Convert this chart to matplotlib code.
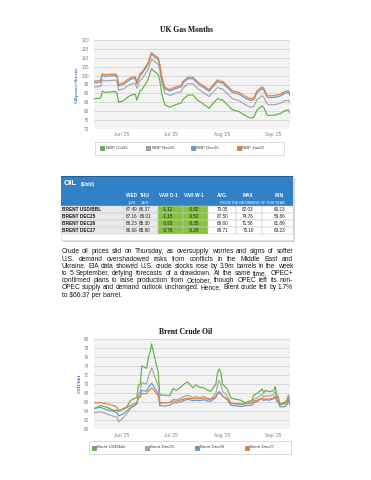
import matplotlib
matplotlib.use("Agg")
import matplotlib.pyplot as plt
import matplotlib.dates as mdates
from matplotlib.patches import Rectangle
import pandas as pd

# ---------------- DATA ----------------
gas_dates = ["2025-05-15", "2025-05-16", "2025-05-19", "2025-05-20", "2025-05-22", "2025-05-26", "2025-05-28",
             "2025-05-29", "2025-05-30",
             "2025-06-02", "2025-06-04", "2025-06-06", "2025-06-09", "2025-06-10", "2025-06-12", "2025-06-13",
             "2025-06-16", "2025-06-17", "2025-06-18", "2025-06-19", "2025-06-20", "2025-06-23", "2025-06-24",
             "2025-06-25", "2025-06-27", "2025-06-30",
             "2025-07-03", "2025-07-07", "2025-07-08", "2025-07-11", "2025-07-14", "2025-07-17", "2025-07-21",
             "2025-07-24", "2025-07-25", "2025-07-29", "2025-07-31",
             "2025-08-01", "2025-08-04", "2025-08-07", "2025-08-11", "2025-08-14", "2025-08-18", "2025-08-20",
             "2025-08-22", "2025-08-25", "2025-08-26", "2025-08-28", "2025-08-29",
             "2025-09-02", "2025-09-04", "2025-09-05", "2025-09-08", "2025-09-10", "2025-09-11"]
nbp_oct25 = [87.2, 87.0, 87.4, 91.2, 90.6, 90.9, 91.1, 90.0, 85.0,
             86.0, 87.6, 88.8, 89.6, 86.3, 91.4, 92.0, 96.4, 98.2, 101.5, 103.8, 102.8, 100.6, 97.0, 90.5, 83.6, 82.2,
             83.5, 84.6, 86.6, 89.0, 89.1, 86.2, 83.6, 81.7, 83.0, 87.2, 86.2,
             86.4, 83.6, 80.8, 79.8, 78.0, 76.1, 76.6, 80.7, 82.9, 82.2, 78.2, 77.6,
             77.8, 78.4, 78.6, 80.3, 80.7, 79.0]
nbp_nov25 = [93.8, 93.6, 94.0, 97.5, 97.0, 97.3, 97.5, 96.6, 91.8,
             92.6, 94.0, 95.0, 95.8, 92.9, 97.4, 98.0, 102.2, 103.8, 106.8, 109.3, 108.4, 106.4, 103.0, 96.8, 90.2, 88.8,
             90.0, 91.0, 93.0, 95.4, 95.5, 92.6, 90.0, 88.2, 89.4, 93.4, 92.5,
             92.6, 89.8, 87.0, 86.0, 84.1, 82.2, 82.6, 86.6, 88.7, 88.0, 84.2, 83.6,
             83.7, 84.2, 84.4, 85.9, 86.2, 84.6]
nbp_dec25 = [96.2, 96.0, 96.4, 100.1, 99.6, 99.9, 100.1, 99.1, 94.2,
             95.1, 96.6, 97.8, 98.6, 95.4, 100.3, 100.9, 105.0, 106.7, 109.8, 112.1, 111.1, 109.0, 105.4, 99.2, 92.5, 91.3,
             92.6, 93.7, 95.8, 98.2, 98.3, 95.5, 93.0, 91.2, 92.5, 96.7, 95.8,
             96.0, 93.3, 90.6, 89.6, 87.8, 86.0, 86.5, 90.5, 92.7, 92.0, 88.1, 87.6,
             87.8, 88.3, 88.5, 90.1, 90.5, 88.9]
nbp_jan26 = [97.1, 96.9, 97.3, 101.0, 100.5, 100.8, 101.0, 100.0, 95.1,
             96.0, 97.5, 98.7, 99.5, 96.3, 101.2, 101.8, 105.9, 107.6, 110.7, 113.0, 112.0, 109.9, 106.3, 100.1, 93.4, 92.2,
             93.5, 94.6, 96.7, 99.1, 99.2, 96.4, 93.9, 92.1, 93.4, 97.6, 96.7,
             96.9, 94.2, 91.5, 90.6, 88.8, 87.0, 87.5, 91.5, 93.7, 93.0, 89.1, 88.6,
             88.8, 89.3, 89.5, 91.1, 91.5, 89.9]
gas_names = ["NBP Oct25", "NBP Nov25", "NBP Dec25", "NBP Jan26"]

brent_dates = ["2025-05-15", "2025-05-19", "2025-05-21", "2025-05-23", "2025-05-27", "2025-05-29", "2025-05-30",
               "2025-06-02", "2025-06-04", "2025-06-06", "2025-06-09", "2025-06-10", "2025-06-11", "2025-06-12",
               "2025-06-13", "2025-06-16", "2025-06-17", "2025-06-18", "2025-06-19", "2025-06-20", "2025-06-23",
               "2025-06-24", "2025-06-25", "2025-06-27", "2025-06-30",
               "2025-07-02", "2025-07-04", "2025-07-07", "2025-07-09", "2025-07-11", "2025-07-14", "2025-07-16",
               "2025-07-18", "2025-07-21", "2025-07-23", "2025-07-25", "2025-07-28", "2025-07-29", "2025-07-30",
               "2025-07-31",
               "2025-08-01", "2025-08-04", "2025-08-06", "2025-08-08", "2025-08-12", "2025-08-14", "2025-08-15",
               "2025-08-19", "2025-08-20", "2025-08-22", "2025-08-25", "2025-08-26", "2025-08-27", "2025-08-29",
               "2025-09-01", "2025-09-02", "2025-09-03", "2025-09-04", "2025-09-05", "2025-09-08", "2025-09-09",
               "2025-09-10", "2025-09-11"]
brent_usd = [64.5, 65.2, 65.0, 64.8, 64.1, 64.2, 63.9,
             64.6, 64.9, 66.3, 66.9, 67.0, 69.8, 69.8, 74.0, 73.5, 76.0, 77.0, 78.9, 77.2, 72.5, 67.4, 67.6, 67.5, 67.4,
             69.0, 68.6, 69.4, 70.1, 70.4, 69.2, 69.8, 69.3, 69.1, 68.6, 68.4, 70.0, 72.5, 73.3, 72.6,
             70.0, 68.9, 67.0, 66.7, 66.4, 66.0, 65.9, 66.4, 67.5, 67.9, 68.9, 68.0, 68.6, 68.3,
             68.5, 69.4, 67.6, 67.0, 65.5, 66.0, 66.4, 67.49, 66.37]
brent_dec25 = [63.6, 63.8, 63.6, 63.3, 62.8, 62.6, 61.6,
               62.6, 63.4, 64.5, 65.3, 65.6, 67.8, 68.2, 70.3, 70.0, 71.6, 72.5, 73.6, 72.6, 69.5, 65.8, 65.9, 65.8, 65.9,
               66.6, 66.5, 66.9, 67.3, 67.5, 67.0, 67.2, 67.0, 67.2, 66.8, 66.7, 67.9, 69.8, 70.8, 69.9,
               68.4, 67.3, 65.7, 65.6, 65.4, 65.5, 65.6, 65.9, 66.6, 66.9, 67.7, 67.1, 67.4, 67.3,
               67.6, 68.3, 67.0, 66.6, 65.3, 65.6, 65.9, 67.16, 66.01]
brent_dec26 = [64.6, 64.8, 64.5, 64.3, 63.9, 63.6, 62.9,
               63.4, 64.0, 64.7, 65.4, 65.6, 67.1, 67.4, 68.6, 68.4, 69.3, 69.6, 70.2, 69.6, 67.8, 65.1, 65.2, 65.1, 65.3,
               65.8, 65.8, 66.1, 66.4, 66.6, 66.3, 66.4, 66.3, 66.5, 66.2, 66.2, 67.0, 67.9, 68.3, 68.0,
               67.3, 66.5, 65.3, 65.2, 65.0, 65.1, 65.2, 65.3, 65.9, 66.1, 66.8, 66.3, 66.5, 66.4,
               66.7, 67.2, 66.2, 65.8, 64.9, 65.0, 65.3, 66.23, 65.30]
brent_dec27 = [65.8, 65.9, 65.7, 65.6, 65.2, 64.8, 64.1,
               64.4, 64.8, 65.2, 65.7, 65.9, 66.9, 67.1, 67.9, 67.8, 68.5, 68.7, 69.1, 68.8, 67.4, 65.6, 65.8, 65.8, 65.9,
               66.2, 66.2, 66.5, 66.7, 66.9, 66.7, 66.8, 66.7, 66.9, 66.6, 66.6, 67.2, 67.8, 68.0, 67.8,
               67.3, 66.7, 65.8, 65.7, 65.6, 65.6, 65.7, 65.8, 66.2, 66.4, 66.9, 66.5, 66.7, 66.6,
               66.9, 67.3, 66.5, 66.2, 65.5, 65.6, 65.8, 66.66, 65.90]
brent_names = ["Brent USD/bbl", "Brent Dec25", "Brent Dec26", "Brent Dec27"]

table_rows = ["BRENT USD/BBL", "BRENT DEC25", "BRENT DEC26", "BRENT DEC27"]
table_headers = ["WED", "THU", "VAR D-1", "VAR W-1", "AVG.", "MAX", "MIN"]
table_days = ["10/9", "11/9"]
col_wed = [67.49, 67.16, 66.23, 66.66]
col_thu = [66.37, 66.01, 65.30, 65.90]
col_var_d1 = [-1.12, -1.15, -0.93, -0.76]
col_var_w1 = [-0.82, -0.52, -0.35, -0.28]
col_avg = [70.05, 67.50, 66.60, 66.71]
col_max = [82.03, 74.76, 71.56, 70.10]
col_min = [60.23, 59.86, 61.89, 63.23]

paragraph = [
    "Crude oil prices slid on Thursday, as oversupply worries and signs of softer",
    "U.S. demand overshadowed risks from conflicts in the Middle East and",
    "Ukraine. EIA data showed U.S. crude stocks rose by 3.9m barrels in the week",
    "to 5 September, defying forecasts of a drawdown. At the same time, OPEC+",
    "confirmed plans to raise production from October, though OPEC left its non-",
    "OPEC supply and demand outlook unchanged. Hence, Brent crude fell by 1.7%",
    "to \\$66.37 per barrel.",
]

# ---------------- STYLE ----------------
W, H = 371, 480
SANS = ['Liberation Sans', 'DejaVu Sans']
SERIF = ['Liberation Serif', 'DejaVu Serif']
line_colors = ['#62B043', '#A6A6A6', '#5B9BD5', '#ED7D31']
edge_colors = ['#3F7F2A', '#707070', '#3A70A8', '#B85A1E']

fig = plt.figure(figsize=(W / 100, H / 100), dpi=100)
fig.patch.set_facecolor('white')

ov = fig.add_axes([0, 0, 1, 1], zorder=5)
ov.set_xlim(0, W)
ov.set_ylim(H, 0)
ov.axis('off')


def rect_px(x0, y0, x1, y1):
    return [x0 / W, 1 - y1 / H, (x1 - x0) / W, (y1 - y0) / H]


def chart(box, dates, series, ylim, yticks, title, title_y, ylabel, ylabel_xy, xpad):
    ax = fig.add_axes(rect_px(*box))
    ax.set_facecolor('#F3F3F3')
    d = pd.to_datetime(dates)
    for vals, c in zip(series, line_colors):
        ax.plot(d, vals, color=c, lw=0.85, solid_joinstyle='round')
    ax.set_xlim(pd.Timestamp('2025-05-15'), pd.Timestamp('2025-09-11'))
    ax.set_ylim(*ylim)
    ax.set_yticks(yticks)
    ax.yaxis.grid(True, color='#D4D4D4', lw=0.6)
    ax.set_axisbelow(True)
    for s in ax.spines.values():
        s.set_visible(False)
    ax.xaxis.set_major_locator(mdates.MonthLocator())
    ax.xaxis.set_major_formatter(mdates.DateFormatter("%b '%y"))
    ax.tick_params(axis='x', length=0, labelsize=3.4, labelcolor='#808080', pad=xpad)
    ax.tick_params(axis='y', length=0, labelsize=3.3, labelcolor='#808080', pad=3.5)
    for lab in ax.get_xticklabels() + ax.get_yticklabels():
        lab.set_family(SANS)
    ov.text(186, title_y, title, ha='center', va='center', fontsize=5.5, fontweight='bold',
            family=SERIF, color='#111111')
    ov.text(ylabel_xy[0], ylabel_xy[1], ylabel, ha='center', va='center', rotation=90,
            fontsize=3.8, fontweight='bold', family=SERIF, color='#4E74B8')
    return ax


def legend(box, names, xs, y):
    x0, y0, x1, y1 = box
    ov.add_patch(Rectangle((x0, y0), x1 - x0, y1 - y0, fc='white', ec='#CFCFCF', lw=0.5))
    for name, x, c, e in zip(names, xs, line_colors, edge_colors):
        ov.add_patch(Rectangle((x - 2, y - 2), 4, 4, fc=c, ec=e, lw=0.4))
        ov.text(x + 3.5, y, name, ha='left', va='center', fontsize=3.2, family=SANS, color='#404040')


# Gas chart
chart((94, 40, 290, 129), gas_dates, [nbp_oct25, nbp_nov25, nbp_dec25, nbp_jan26],
      (70, 120), list(range(70, 121, 5)), "UK Gas Months", 30.5, "GBpence/therm", (77, 84.5), 2.0)
legend((95, 141.5, 284, 154.5), gas_names, [102, 148, 193, 239], 148)

# Brent chart
chart((94, 339, 290, 429), brent_dates, [brent_usd, brent_dec25, brent_dec26, brent_dec27],
      (60, 80), list(range(60, 81, 2)), "Brent Crude Oil", 331.5, "USD/bbl", (79.5, 383.5), 2.6)
legend((89, 441, 291, 454), brent_names, [93.5, 147, 197, 247], 447.5)

# ---------------- TABLE ----------------
TX0, TX1 = 61, 293
ov.add_patch(Rectangle((TX0 + 1.5, 177.5), TX1 - TX0, 64, fc='#D2D2D2', ec='none'))
ov.add_patch(Rectangle((TX0, 176), TX1 - TX0, 64, fc='white', ec='#D8D8D8', lw=0.4))
ov.add_patch(Rectangle((TX0, 176), TX1 - TX0, 30, fc='#3280C5', ec='none'))
ov.add_patch(Rectangle((TX0, 176), TX1 - TX0, 1.2, fc='#245F9A', ec='none'))
ov.text(64, 183.5, "OIL", ha='left', va='center', fontsize=5.8, fontweight='bold', family=SANS, color='white')
ov.text(81, 184.2, "(\\$/bbl)", ha='left', va='center', fontsize=3.3, fontweight='bold', family=SANS,
        color='white')
col_x = [131.5, 145, 168, 194, 222.5, 248, 279.5]
for h, x in zip(table_headers, col_x):
    ov.text(x, 195.8, h, ha='center', va='center', fontsize=3.4, fontweight='bold', family=SANS, color='white')
for dlab, x in zip(table_days, col_x[:2]):
    ov.text(x, 202.6, dlab, ha='center', va='center', fontsize=3.0, family=SANS, color='white')
ov.text(252, 202.6, "FROM THE BEGINNING OF THIS YEAR", ha='center', va='center', fontsize=2.6,
        family=SANS, color='white')

row_h = 7.1
row_top = 206
cols = [col_wed, col_thu, col_var_d1, col_var_w1, col_avg, col_max, col_min]
for i, lab in enumerate(table_rows):
    y0 = row_top + i * row_h
    yc = y0 + row_h / 2
    ov.add_patch(Rectangle((TX0, y0), 158 - TX0, row_h, fc='#E9E9E9', ec='#C9C9C9', lw=0.35))
    ov.add_patch(Rectangle((158, y0), 25, row_h, fc='#86C440', ec='#C9C9C9', lw=0.35))
    ov.add_patch(Rectangle((183, y0), 25, row_h, fc='#86C440', ec='#C9C9C9', lw=0.35))
    for xa, xb in [(208, 236), (236, 262), (262, TX1)]:
        ov.add_patch(Rectangle((xa, y0), xb - xa, row_h, fc='white', ec='#C9C9C9', lw=0.35))
    ov.plot([124, 124], [y0, y0 + row_h], color='#C9C9C9', lw=0.35)
    ov.plot([138.5, 138.5], [y0, y0 + row_h], color='#C9C9C9', lw=0.35)
    ov.text(62.5, yc, lab, ha='left', va='center', fontsize=3.4, fontweight='bold', family=SANS,
            color='#1A1A1A')
    for col, x in zip(cols, col_x):
        ov.text(x, yc, f"{col[i]:.2f}", ha='center', va='center', fontsize=3.3, family=SANS, color='#1A1A1A')

# ---------------- PARAGRAPH (justified) ----------------
renderer = fig.canvas.get_renderer()
PX0, PX1 = 61.5, 293
py0, pdy = 251.8, 7.22
base = 4.0
widest = 0
for line in paragraph[:-1]:
    t = ov.text(0, 0, line, fontsize=base, family=SANS)
    widest = max(widest, t.get_window_extent(renderer).width)
    t.remove()
size = base * (PX1 - PX0) / widest * 0.995

for i, line in enumerate(paragraph):
    y = py0 + i * pdy
    if i == len(paragraph) - 1:
        ov.text(PX0, y, line, ha='left', va='center', fontsize=size, family=SANS, color='#1A1A1A')
        continue
    words = line.split(' ')
    txts = [ov.text(0, y, w, ha='left', va='center', fontsize=size, family=SANS, color='#1A1A1A')
            for w in words]
    widths = [t.get_window_extent(renderer).width for t in txts]
    gap = (PX1 - PX0 - sum(widths)) / (len(words) - 1)
    x = PX0
    for t, w in zip(txts, widths):
        t.set_x(x)
        x += w + gap

fig.savefig('out.png', dpi=100, facecolor='white')
